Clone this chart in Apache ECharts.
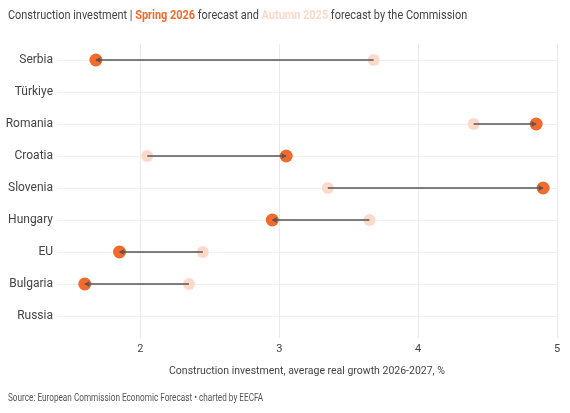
<!DOCTYPE html>
<html>
<head>
<meta charset="utf-8">
<script src="https://cdn.jsdelivr.net/npm/echarts@6/dist/echarts.min.js"></script>
<style>
  html, body { margin: 0; padding: 0; background: #fff; }
  #chart { width: 570px; height: 413px; }
</style>
</head>
<body>
<div id="chart"></div>
<script>
const countries = ['Serbia', 'Türkiye', 'Romania', 'Croatia', 'Slovenia', 'Hungary', 'EU', 'Bulgaria', 'Russia'];
const spring2026 = [1.68, null, 4.85, 3.05, 4.9, 2.95, 1.85, 1.6, null];
const autumn2025 = [3.68, null, 4.4, 2.05, 3.35, 3.65, 2.45, 2.35, null];
const xTicks = [2, 3, 4, 5];

const orange = '#f26b2c';
const peach = '#fcd9cb';
const font = 'Roboto';

const springPts = [];
const autumnPts = [];
const links = [];
countries.forEach((c, i) => {
    if (spring2026[i] == null || autumn2025[i] == null) return;
    springPts.push([spring2026[i], c]);
    autumnPts.push([autumn2025[i], c]);
    links.push({ coords: [[autumn2025[i], c], [spring2026[i], c]] });
});

const chart = echarts.init(document.getElementById('chart'));

chart.setOption({
    animation: false,
    textStyle: { fontFamily: font },
    // title and source squeezed a bit to mimic the condensed face of the original
    graphic: [
        {
            type: 'text',
            x: 8,
            y: 9,
            scaleX: 0.84,
            style: {
                text: '{n|Construction investment | }{s|Spring 2026}{n| forecast and }{a|Autumn 2025}{n| forecast by the Commission}',
                rich: {
                    n: { fontFamily: font, fontSize: 13, fill: '#444' },
                    s: { fontFamily: font, fontSize: 13, fill: orange, fontWeight: 'bold' },
                    a: { fontFamily: font, fontSize: 13, fill: peach, fontWeight: 'bold' }
                }
            }
        },
        {
            type: 'text',
            x: 8,
            y: 393,
            scaleX: 0.82,
            style: {
                text: 'Source: European Commission Economic Forecast • charted by EECFA',
                fontFamily: font,
                fontSize: 10,
                fill: '#555'
            }
        }
    ],
    grid: { left: 57, right: 13, top: 44, bottom: 81 },
    xAxis: {
        type: 'value',
        min: 1.4,
        max: 5,
        interval: 1,
        name: 'Construction investment, average real growth 2026-2027, %',
        nameLocation: 'middle',
        nameGap: 34,
        nameTextStyle: { fontFamily: font, fontSize: 10.5, color: '#444' },
        axisLine: { show: false },
        axisTick: { show: true, length: 6, lineStyle: { color: '#e8e8e8' }, customValues: xTicks },
        axisLabel: { color: '#444', fontSize: 11, margin: 12, customValues: xTicks },
        splitLine: { show: true, lineStyle: { color: '#ebebeb' } }
    },
    yAxis: {
        type: 'category',
        data: countries,
        inverse: true,
        axisLine: { show: false },
        axisTick: { show: false, alignWithLabel: true },
        axisLabel: { color: '#444', fontSize: 12, margin: 4 },
        splitLine: { show: true, alignWithLabel: true, lineStyle: { color: '#efefef' } }
    },
    series: [
        {
            name: 'Autumn 2025',
            type: 'scatter',
            data: autumnPts,
            symbolSize: 12,
            itemStyle: { color: peach, opacity: 1 },
            z: 2
        },
        {
            name: 'Spring 2026',
            type: 'scatter',
            data: springPts,
            symbolSize: 13,
            itemStyle: { color: orange, opacity: 1 },
            z: 3
        },
        {
            type: 'lines',
            coordinateSystem: 'cartesian2d',
            data: links,
            symbol: ['none', 'arrow'],
            symbolSize: 5,
            lineStyle: { color: '#555', width: 1.5, opacity: 1 },
            z: 4
        }
    ]
});
</script>
</body>
</html>
